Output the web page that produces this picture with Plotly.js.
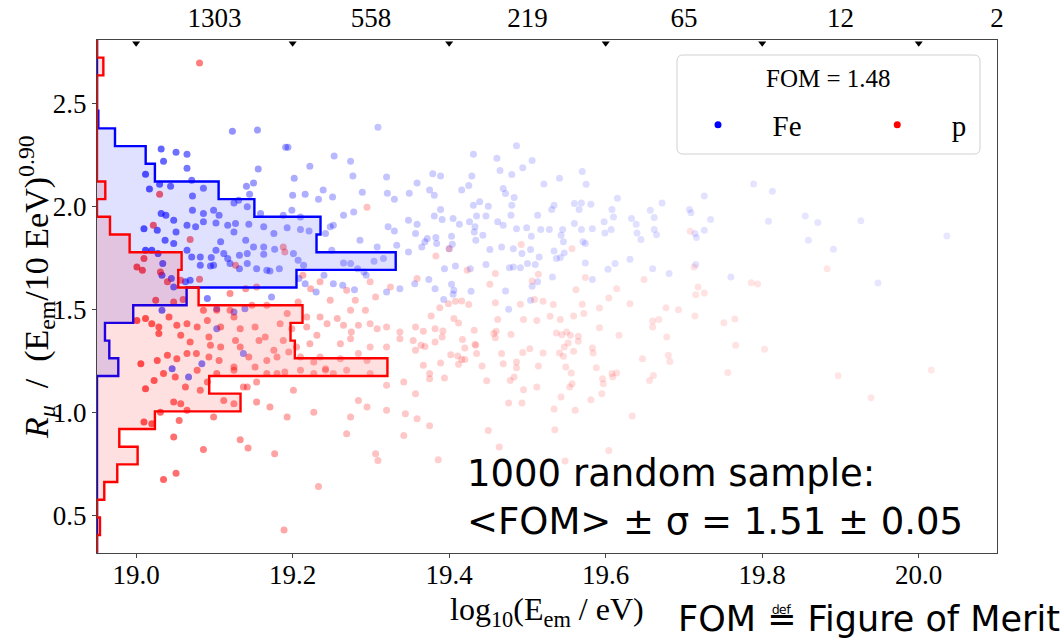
<!DOCTYPE html>
<html><head><meta charset="utf-8">
<script src="https://cdn.plot.ly/plotly-3.0.1.min.js"></script>
<style>html,body{margin:0;padding:0;background:#fff;}</style>
</head><body>
<div id="chart" style="width:1064px;height:641px;"></div>
<script>
// ---------- DATA ----------
// Fe events: [log10(Eem/eV), Rmu/(Eem/10EeV)^0.90]
const fePoints = [
[19.123,2.364],[19.155,2.369],[19.032,2.277],[19.051,2.262],[19.065,2.252],[19.035,2.218],[19.065,2.184],[19.012,2.155],[19.017,2.083],[19.030,2.107],[19.044,2.097],[19.071,2.126],[19.086,2.087],[19.072,2.049],[19.145,2.058],[19.156,2.180],[19.150,2.112],[19.141,2.097],[19.191,2.286],[19.194,2.286],[19.222,2.194],[19.202,2.136],[19.200,2.053],[19.216,2.058],[19.239,2.078],[19.233,2.034],[19.253,2.243],[19.274,2.218],[19.277,2.146],[19.309,2.383],[19.320,2.141],[19.321,2.063],[19.330,2.034],[19.349,2.063],[19.359,2.112],[19.289,2.068],[19.251,2.044],
[19.486,2.293],[19.431,2.252],[19.461,2.233],[19.506,2.222],[19.494,2.186],[19.480,2.154],[19.465,2.173],[19.429,2.147],[19.389,2.147],[19.379,2.157],[19.416,2.078],[19.425,2.100],[19.375,2.078],[19.381,2.053],[19.469,2.086],[19.472,2.061],[19.483,2.042],[19.570,2.168],[19.575,2.107],[19.541,2.136],[19.521,2.108],[19.615,2.039],[19.726,2.049],[19.789,2.108],[19.813,2.073],
[19.389,1.984],[19.381,1.953],[19.391,1.935],[19.405,1.940],[19.413,1.912],[19.431,2.005],[19.439,2.021],[19.450,2.000],[19.435,1.953],[19.447,1.953],[19.426,1.924],[19.433,1.900],[19.432,1.875],[19.443,1.859],[19.434,1.835],[19.452,1.790],[19.462,1.924],[19.469,1.908],[19.479,1.956],[19.480,2.005],[19.486,1.891],[19.499,1.896],[19.513,1.956],[19.505,1.854],[19.517,1.887],[19.528,1.887],[19.534,2.005],[19.531,1.984],[19.543,1.859],[19.545,1.887],[19.546,1.827],[19.560,2.013],[19.569,2.016],[19.581,2.010],[19.566,1.984],[19.560,1.916],[19.569,1.887],[19.583,1.891],[19.598,1.924],[19.607,1.887],[19.608,1.984],[19.599,1.870],[19.610,1.948],[19.633,1.940],[19.639,1.912],[19.640,1.870],[19.645,1.838],[19.657,1.980],[19.662,1.945],[19.662,1.887],[19.665,1.862],[19.672,2.016],[19.707,1.984],[19.709,1.968],[19.714,1.867],[19.716,1.848],[19.726,1.883],[19.734,1.935],[19.571,1.827],[19.574,1.819],[19.369,1.827],[19.372,1.843],[19.383,1.848],[19.384,1.819],[19.400,1.794],[19.403,1.854],[19.404,1.815],[19.482,1.794],[19.493,1.770],[19.504,1.790],[19.515,1.754],[19.534,1.783],[19.537,1.746],[19.542,1.751],[19.547,1.773],[19.467,1.802],[19.477,1.701],[19.482,1.705],[19.491,1.701],[19.500,1.722],[19.510,1.717],[19.513,1.633],[19.506,1.612],[19.504,1.544],[19.447,1.717],[19.427,1.697],[19.408,1.710],[19.394,1.697],[19.374,1.644],[19.382,1.600],[19.403,1.621],[19.406,1.592],[19.405,1.573],[19.393,1.548],[19.428,1.587],[19.472,1.589],[19.476,1.500],[19.532,1.657],[19.583,1.644],[19.574,1.725],[19.603,1.694],[19.612,1.722],[19.631,1.743],[19.660,1.697],[19.681,1.673],[19.715,1.717],[19.365,1.802],
[19.808,1.927],[19.855,1.953],[19.871,1.921],[19.859,1.835],[19.891,1.791],[19.926,1.929],[20.036,1.856],[19.760,1.657],[19.948,1.628],
[19.032,1.964],[19.038,1.956],[19.048,1.932],[19.072,1.980],[19.086,1.964],[19.099,1.980],[19.106,1.956],[19.125,2.016],[19.131,2.029],[19.142,1.997],[19.159,1.964],[19.188,1.956],[19.199,1.980],[19.210,1.948],[19.252,1.908],[19.265,1.956],[19.278,1.972],[19.322,1.900],[19.330,1.880],[19.348,1.932],[19.359,1.912],[19.357,1.867],
[19.010,1.891],[19.027,1.883],[19.051,1.875],[19.065,1.908],[19.076,1.900],[19.086,1.924],[19.102,1.919],[19.117,1.908],[19.125,1.875],[19.127,1.916],[19.144,1.912],[19.163,1.900],[19.176,1.867],[19.193,1.896],[19.210,1.887],[19.221,1.880],[19.242,1.867],[19.248,1.900],
[19.012,1.786],[19.020,1.786],[19.028,1.770],[19.037,1.835],[19.048,1.819],[19.065,1.786],[19.071,1.754],[19.082,1.754],[19.096,1.751],[19.102,1.786],[19.108,1.827],[19.112,1.770],[19.132,1.762],[19.142,1.770],[19.140,1.835],[19.150,1.802],[19.163,1.802],[19.177,1.791],[19.163,1.767],[19.201,1.770],[19.250,1.786],[19.286,1.835],[19.308,1.802],[19.333,1.811],[19.348,1.778],
[19.034,1.722],[19.082,1.713],[19.095,1.710],[19.099,1.713],[19.117,1.746],[19.120,1.722],[19.132,1.697],[19.142,1.722],[19.154,1.697],[19.167,1.689],[19.171,1.686],[19.183,1.697],[19.207,1.738],[19.214,1.713],[19.265,1.725],[19.274,1.722],[19.283,1.697],[19.291,1.681],[19.304,1.733],[19.316,1.746],
[19.033,1.665],[19.045,1.649],[19.048,1.608],[19.063,1.633],[19.069,1.641],[19.208,1.649],[19.216,1.624],[19.240,1.665],[19.252,1.624],[19.264,1.616],[19.279,1.595],[19.294,1.665],[19.320,1.584],[19.337,1.600],[19.356,1.624],[19.230,1.584],
[19.091,1.552],[19.173,1.560],[19.139,1.503],[19.125,1.487],[19.103,1.503],[19.033,1.495],[19.103,1.406],[19.137,1.285],[19.084,1.236],[19.046,1.212],[19.067,1.171]
];
// proton events
const pPoints = [
[19.081,2.694],[19.030,2.058],[19.295,1.995],
[19.022,1.908],[19.069,1.838],[19.127,1.713],[19.010,1.746],[19.001,1.705],[19.008,1.689],[19.031,1.681],[19.040,1.633],[19.057,1.641],[19.081,1.646],[19.120,1.576],[19.140,1.600],[19.154,1.608],[19.188,1.802],[19.190,1.778],[19.213,1.665],[19.223,1.600],[19.235,1.633],[19.248,1.544],[19.269,1.592],[19.280,1.544],[19.299,1.633],[19.306,1.560],[19.325,1.608],[19.359,1.649],
[19.025,1.544],[19.048,1.535],[19.060,1.548],[19.086,1.495],[19.103,1.495],[19.120,1.495],[19.125,1.463],[19.148,1.519],[19.167,1.519],[19.193,1.479],[19.207,1.535],[19.218,1.463],[19.235,1.463],[19.244,1.430],[19.257,1.455],[19.274,1.495],[19.293,1.495],
[19.012,1.455],[19.020,1.430],[19.029,1.414],[19.001,1.446],[19.042,1.463],[19.052,1.422],[19.065,1.430],[19.078,1.414],[19.091,1.446],[19.108,1.414],[19.133,1.406],[19.152,1.414],[19.165,1.366],[19.184,1.430],[19.199,1.406],[19.218,1.414],[19.231,1.374],[19.265,1.422],[19.275,1.390],[19.284,1.422],[19.299,1.430],[19.308,1.406],[19.320,1.414],[19.337,1.390],[19.357,1.414],
[19.029,1.382],[19.057,1.374],[19.069,1.341],[19.093,1.366],[19.095,1.325],[19.108,1.317],[19.127,1.349],[19.133,1.317],[19.157,1.349],[19.176,1.301],[19.188,1.349],[19.205,1.317],[19.222,1.333],[19.235,1.268],[19.261,1.333],[19.274,1.357],[19.320,1.317],[19.299,1.317],[19.354,1.349],[19.337,1.357],
[19.006,1.236],[19.027,1.252],[19.040,1.277],[19.052,1.260],[19.065,1.285],[19.077,1.285],[19.093,1.268],[19.106,1.252],[19.125,1.220],[19.144,1.268],[19.152,1.220],[19.167,1.252],[19.180,1.268],[19.195,1.293],[19.210,1.268],[19.227,1.244],[19.242,1.212],[19.261,1.260],[19.284,1.285],[19.295,1.252],[19.357,1.301],
[19.012,1.115],[19.023,1.155],[19.035,1.188],[19.050,1.171],[19.063,1.123],[19.078,1.204],[19.091,1.147],[19.103,1.188],[19.125,1.204],[19.137,1.123],[19.154,1.147],[19.167,1.188],[19.180,1.188],[19.190,1.196],[19.210,1.204],[19.227,1.188],[19.242,1.204],[19.252,1.188],[19.269,1.204],[19.299,1.188],[19.320,1.131],[19.342,1.147],[19.357,1.090],
[19.010,0.953],[19.031,1.001],[19.048,1.050],[19.057,1.042],[19.065,1.010],[19.082,1.107],[19.099,0.977],[19.112,1.058],[19.125,1.042],[19.142,1.123],[19.154,1.050],[19.171,1.026],[19.193,0.977],[19.201,1.107],[19.227,1.001],[19.274,0.977],[19.284,1.058],[19.295,1.026],[19.320,1.010],[19.344,0.993],[19.359,0.969],
[19.020,0.945],[19.055,0.961],[19.269,0.896],[19.342,0.888],[19.048,0.880],[19.133,0.867],[19.143,0.827],[19.086,0.820],[19.177,0.799],[19.306,0.799],[19.309,0.767],[19.035,0.675],[19.051,0.705],[19.233,0.641],[19.189,0.430],
[19.708,1.879],[19.557,1.794],[19.492,1.814],[19.400,1.794],[19.383,1.759],[19.423,1.689],[19.459,1.673],[19.506,1.637],[19.514,1.670],[19.452,1.621],[19.562,1.595],[19.574,1.654],[19.614,1.600],[19.604,1.555],[19.631,1.527],[19.649,1.644],[19.677,1.508],[19.693,1.498],[19.714,1.468],[19.715,1.571],[19.718,1.608],[19.726,1.579],[19.713,1.705],
[19.388,1.508],[19.377,1.468],[19.399,1.527],[19.408,1.539],[19.416,1.540],[19.425,1.523],[19.459,1.532],[19.491,1.524],[19.509,1.548],[19.520,1.539],[19.533,1.523],[19.570,1.524],[19.592,1.506],
[19.462,1.451],[19.495,1.451],[19.512,1.446],[19.529,1.466],[19.542,1.451],[19.559,1.468],[19.572,1.479],[19.406,1.455],[19.412,1.434],[19.382,1.406],[19.392,1.395],[19.432,1.398],[19.460,1.393],[19.367,1.393],
[19.364,1.325],[19.369,1.320],[19.382,1.341],[19.391,1.366],[19.417,1.354],[19.420,1.312],[19.434,1.325],[19.459,1.362],[19.479,1.378],[19.537,1.385],[19.544,1.377],[19.550,1.390],[19.555,1.374],[19.565,1.369],[19.565,1.345],[19.617,1.374],[19.592,1.411],[19.660,1.414],[19.660,1.443],[19.668,1.450],[19.678,1.366],
[19.503,1.309],[19.494,1.290],[19.520,1.288],[19.541,1.288],[19.547,1.317],[19.552,1.336],[19.559,1.296],[19.583,1.312],[19.584,1.288],[19.546,1.272],[19.402,1.280],[19.411,1.273],[19.416,1.257],[19.420,1.256],[19.435,1.285],
[19.367,1.228],[19.389,1.239],[19.412,1.233],[19.442,1.225],[19.469,1.236],[19.486,1.244],[19.486,1.217],[19.514,1.225],[19.549,1.220],[19.556,1.191],[19.588,1.217],[19.614,1.191],[19.608,1.188],[19.609,1.171],[19.596,1.163],[19.597,1.139],[19.554,1.123],[19.557,1.139],[19.595,1.090],[19.581,1.061],[19.543,1.074],[19.534,1.016],[19.561,1.010],
[19.512,1.123],[19.478,1.155],[19.483,1.171],[19.495,1.110],[19.476,1.045],[19.493,1.045],[19.375,1.188],[19.375,1.163],[19.394,1.167],[19.448,1.154],[19.680,1.277],[19.682,1.247],[19.647,1.260],[19.661,1.179],[19.656,1.155],[19.634,0.982],
[19.375,0.935],[19.450,0.912],[19.464,0.832],[19.535,0.916],[19.386,0.770],[19.604,0.815],[19.548,0.764],[19.467,1.285],[19.457,1.382],[19.433,1.330],
[19.883,1.697],[19.786,1.629],[19.794,1.623],[19.751,1.435],[19.765,1.453],[19.766,1.325],[19.803,1.306],[19.756,1.194],[19.897,1.178],[19.939,1.071],[20.016,1.205]
];
// side histograms of Rmu (bins from bottom to top), bar length in units of log10(E)
const histBinLow = 0.319;
const histBinWidth = 0.08576;
const feHist = [0,0,0,0,0,0,0,0,0,0,0.0272,0.0157,0.0102,0.0463,0.1145,0.2549,0.3817,0.2805,0.2856,0.2011,0.1554,0.0740,0.0622,0.0230,0.0017,0,0,0,0];
const pHist  = [0,0.0038,0,0.0093,0.0259,0.0519,0.0285,0.0740,0.1834,0.1434,0.3711,0.2528,0.2473,0.2626,0.1298,0.1038,0.1081,0.0417,0.0166,0,0.0106,0,0,0,0,0,0,0.0081,0];
// top axis: events per energy bin
const topBinEdges = [19.0,19.2,19.4,19.6,19.8,20.0];
const topBinCenters = [19.1,19.3,19.5,19.7,19.9,20.1];
const topCounts = ['1303','558','219','65','12','2'];
const xTicks = [19.0,19.2,19.4,19.6,19.8,20.0];
const yTicks = [0.5,1.0,1.5,2.0,2.5];
const xRange = [18.95, 20.1];
const yRange = [0.318, 2.806];
const fomValue = '1.48';
const fomMean = '1.51', fomSigma = '0.05';
const seriesNames = ['Fe', 'p'];

// ---------- STYLE ----------
const W = 1064, H = 641;
const M = {l:97, r:67, t:40, b:88};
const serif = 'Liberation Serif, Times New Roman, serif';
const sans = 'DejaVu Sans, sans-serif';
const NB = '\u00a0';
function alphaFor(x){ return Math.min(0.75, 0.09 + 0.6*Math.exp(-(x-19.0)/0.22)); }
function colorsFor(pts, rgb){ return pts.map(p => 'rgba('+rgb+','+alphaFor(p[0]).toFixed(3)+')'); }

function stepOutline(lengths){
  const x0 = xRange[0];
  const xs=[x0], ys=[histBinLow];
  lengths.forEach((L,i)=>{
    const lo = histBinLow + i*histBinWidth, hi = lo + histBinWidth;
    xs.push(x0+L, x0+L); ys.push(lo, hi);
  });
  xs.push(x0); ys.push(histBinLow + lengths.length*histBinWidth);
  return {xs, ys};
}
const feStep = stepOutline(feHist), pStep = stepOutline(pHist);

const plotW = W - M.l - M.r, plotH = H - M.t - M.b;
const triY = yRange[1] - 3.2*(yRange[1]-yRange[0])/plotH;
const px2paperX = px => (px - M.l)/plotW;
const px2paperY = py => 1 - (py - M.t)/plotH;

const traces = [
  {type:'scatter', mode:'markers', x:fePoints.map(p=>p[0]), y:fePoints.map(p=>p[1]),
   marker:{size:7, color:colorsFor(fePoints,'0,0,255'), line:{width:0}}, showlegend:false, hoverinfo:'skip'},
  {type:'scatter', mode:'markers', x:pPoints.map(p=>p[0]), y:pPoints.map(p=>p[1]),
   marker:{size:7, color:colorsFor(pPoints,'255,0,0'), line:{width:0}}, showlegend:false, hoverinfo:'skip'},
  {type:'scatter', mode:'lines', x:feStep.xs, y:feStep.ys, fill:'toself', fillcolor:'rgba(0,0,255,0.12)',
   line:{color:'rgb(0,0,255)', width:2.4}, showlegend:false, hoverinfo:'skip'},
  {type:'scatter', mode:'lines', x:pStep.xs, y:pStep.ys, fill:'toself', fillcolor:'rgba(255,0,0,0.12)',
   line:{color:'rgb(255,0,0)', width:2.4}, showlegend:false, hoverinfo:'skip'},
  {type:'scatter', mode:'markers', x:topBinEdges, y:topBinEdges.map(()=>triY), xaxis:'x2', yaxis:'y',
   marker:{symbol:'triangle-down', size:7, color:'black'}, cliponaxis:false, showlegend:false, hoverinfo:'skip'},
  {type:'scatter', mode:'markers', x:[null], y:[null], name:NB+NB+seriesNames[0]+NB.repeat(7), marker:{size:7, color:'rgb(0,0,255)'}},
  {type:'scatter', mode:'markers', x:[null], y:[null], name:NB+NB+seriesNames[1]+NB, marker:{size:7, color:'rgb(255,0,0)'}}
];

// rounded legend frame (paper coords)
function roundedRect(x0,y0,x1,y1,r){
  const X0=px2paperX(x0), X1=px2paperX(x1), Y0=px2paperY(y0), Y1=px2paperY(y1);
  const rx=r/plotW, ry=r/plotH;
  return 'M '+(X0+rx)+' '+Y0+' L '+(X1-rx)+' '+Y0+' Q '+X1+' '+Y0+' '+X1+' '+(Y0-ry)+
         ' L '+X1+' '+(Y1+ry)+' Q '+X1+' '+Y1+' '+(X1-rx)+' '+Y1+
         ' L '+(X0+rx)+' '+Y1+' Q '+X0+' '+Y1+' '+X0+' '+(Y1+ry)+
         ' L '+X0+' '+(Y0-ry)+' Q '+X0+' '+Y0+' '+(X0+rx)+' '+Y0+' Z';
}

const layout = {
  width:W, height:H, margin:{l:M.l, r:M.r, t:M.t, b:M.b, pad:0},
  paper_bgcolor:'white', plot_bgcolor:'white',
  font:{family:serif, color:'black', size:27},
  showlegend:true,
  xaxis:{range:xRange, tickvals:xTicks, ticktext:xTicks.map(v=>v.toFixed(1)), ticks:'outside', ticklen:4, tickwidth:1, tickcolor:'#444',
         ticklabelstandoff:-6,
         showline:true, linecolor:'#444', linewidth:1, mirror:true, showgrid:false, zeroline:false,
         tickfont:{family:serif, size:27}},
  xaxis2:{overlaying:'x', side:'top', range:xRange, tickvals:topBinCenters, ticktext:topCounts, ticks:'outside', ticklen:4, tickcolor:'rgba(0,0,0,0)',
          ticklabelstandoff:-3,
          showline:false, showgrid:false, zeroline:false, tickfont:{family:serif, size:27}},
  yaxis:{range:yRange, tickvals:yTicks, ticktext:yTicks.map(v=>v.toFixed(1)), ticks:'outside', ticklen:4, tickwidth:1, tickcolor:'#444',
         showline:true, linecolor:'#444', linewidth:1, mirror:true, showgrid:false, zeroline:false,
         tickfont:{family:serif, size:27}},
  legend:{orientation:'h', x:px2paperX(678), y:px2paperY(125), xanchor:'left', yanchor:'middle',
          bgcolor:'rgba(0,0,0,0)', borderwidth:0,
          font:{family:serif, size:29}, itemwidth:70},
  shapes:[
    {type:'path', xref:'paper', yref:'paper', path:roundedRect(677,55,980,154,6),
     fillcolor:'rgba(255,255,255,0.8)', line:{color:'#d0d0d0', width:1}, layer:'above'}
  ],
  annotations:[
    {xref:'paper', yref:'paper', x:px2paperX(828), y:px2paperY(78), xanchor:'center', yanchor:'middle', showarrow:false,
     text:'FOM = '+fomValue, font:{family:serif, size:25}},
    {xref:'paper', yref:'paper', x:px2paperX(36), y:px2paperY(287), xanchor:'center', yanchor:'middle', textangle:-90, showarrow:false,
     text:'<i>R</i><sub><i>μ</i></sub>'+NB+' / '+NB+'(E<sub>em</sub>/10'+NB+'EeV)<sup>0.90</sup>', font:{family:serif, size:34}},
    {xref:'paper', yref:'paper', x:px2paperX(547), y:px2paperY(611), xanchor:'center', yanchor:'middle', showarrow:false,
     text:'log<sub>10</sub>(E<sub>em</sub> / eV)', font:{family:serif, size:32}},
    {xref:'paper', yref:'paper', x:px2paperX(465), y:px2paperY(497), xanchor:'left', yanchor:'middle', align:'left', showarrow:false,
     text:'1000 random sample:<br>&lt;FOM&gt; ± σ = '+fomMean+' ± '+fomSigma, font:{family:sans, size:37, color:'black'}},
    {xref:'paper', yref:'paper', x:px2paperX(1062), y:px2paperY(619), xanchor:'right', yanchor:'middle', showarrow:false,
     text:'FOM ≝ Figure of Merit', font:{family:sans, size:35, color:'black'}}
  ]
};
Plotly.newPlot('chart', traces, layout, {displayModeBar:false, staticPlot:true});
</script>
</body></html>
